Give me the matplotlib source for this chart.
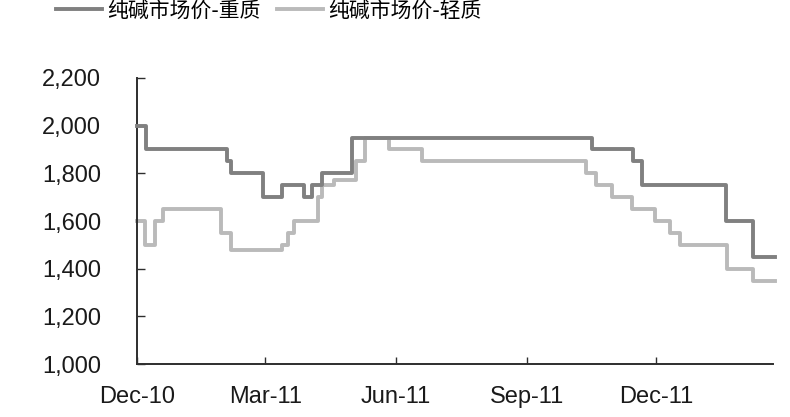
import matplotlib

matplotlib.use("Agg")
import matplotlib.pyplot as plt
import matplotlib.dates as mdates
from matplotlib.ticker import FuncFormatter
import pandas as pd

plt.rcParams["font.family"] = ["Liberation Sans", "Noto Sans CJK SC", "DejaVu Sans"]

# change points of each weekly price series (step plot)
heavy_dates = [
    "2010-12-01", "2010-12-07", "2011-02-02", "2011-02-05", "2011-02-27",
    "2011-03-13", "2011-03-28", "2011-04-03", "2011-04-10", "2011-05-01",
    "2011-10-17", "2011-11-15", "2011-11-21", "2012-01-19", "2012-02-07",
    "2012-02-23",
]
heavy_values = [
    2000, 1900, 1850, 1800, 1700,
    1750, 1700, 1750, 1800, 1950,
    1900, 1850, 1750, 1600, 1450,
    1450,
]

light_dates = [
    "2010-12-01", "2010-12-06", "2010-12-13", "2010-12-19", "2011-01-29",
    "2011-02-05", "2011-03-13", "2011-03-17", "2011-03-21", "2011-04-07",
    "2011-04-10", "2011-04-18", "2011-05-04", "2011-05-10", "2011-05-27",
    "2011-06-19", "2011-10-13", "2011-10-20", "2011-10-31", "2011-11-14",
    "2011-11-30", "2011-12-11", "2011-12-18", "2012-01-20", "2012-02-07",
    "2012-02-23",
]
light_values = [
    1600, 1500, 1600, 1650, 1550,
    1480, 1500, 1550, 1600, 1700,
    1750, 1770, 1850, 1950, 1900,
    1850, 1800, 1750, 1700, 1650,
    1600, 1550, 1500, 1400, 1350,
    1350,
]

series_labels = ["纯碱市场价-重质", "纯碱市场价-轻质"]
y_ticks = [1000, 1200, 1400, 1600, 1800, 2000, 2200]

DARK = "#808080"
LIGHT = "#bababa"
AXIS = "#2e2e2e"

fig = plt.figure(figsize=(7.9, 4.17), dpi=100)
ax = fig.add_axes([0.174, 0.127, 0.804, 0.686])

l1, = ax.plot(pd.to_datetime(heavy_dates), heavy_values, drawstyle="steps-post",
              color=DARK, linewidth=2.8, clip_on=False, zorder=3)
l2, = ax.plot(pd.to_datetime(light_dates), light_values, drawstyle="steps-post",
              color=LIGHT, linewidth=2.8, clip_on=False, zorder=2)

ax.set_xlim(pd.Timestamp("2010-12-01"), pd.Timestamp("2012-02-21"))
ax.set_ylim(1000, 2200)
ax.set_yticks(y_ticks)
ax.yaxis.set_major_formatter(FuncFormatter(lambda v, _: f"{v:,.0f}"))
ax.xaxis.set_major_locator(mdates.MonthLocator(bymonth=[3, 6, 9, 12]))
ax.xaxis.set_major_formatter(mdates.DateFormatter("%b-%y"))

for side in ("top", "right"):
    ax.spines[side].set_visible(False)
for side in ("left", "bottom"):
    ax.spines[side].set_color(AXIS)
    ax.spines[side].set_linewidth(1.4)

ax.tick_params(axis="y", direction="in", length=6, width=1, color=AXIS,
               labelsize=17, pad=26, labelcolor="#1a1a1a")
ax.tick_params(axis="x", direction="in", length=5, width=1, color=AXIS,
               labelsize=17, pad=16, labelcolor="#1a1a1a")

fig.legend([l1, l2], series_labels, loc="center", bbox_to_anchor=(0.34, 0.975),
           ncol=2, frameon=False, handlelength=2.2,
           handletextpad=0.25, columnspacing=0.8,
           prop={"family": ["Noto Sans CJK SC", "DejaVu Sans"], "size": 15})

fig.savefig("out.png", dpi=100, facecolor="white")
